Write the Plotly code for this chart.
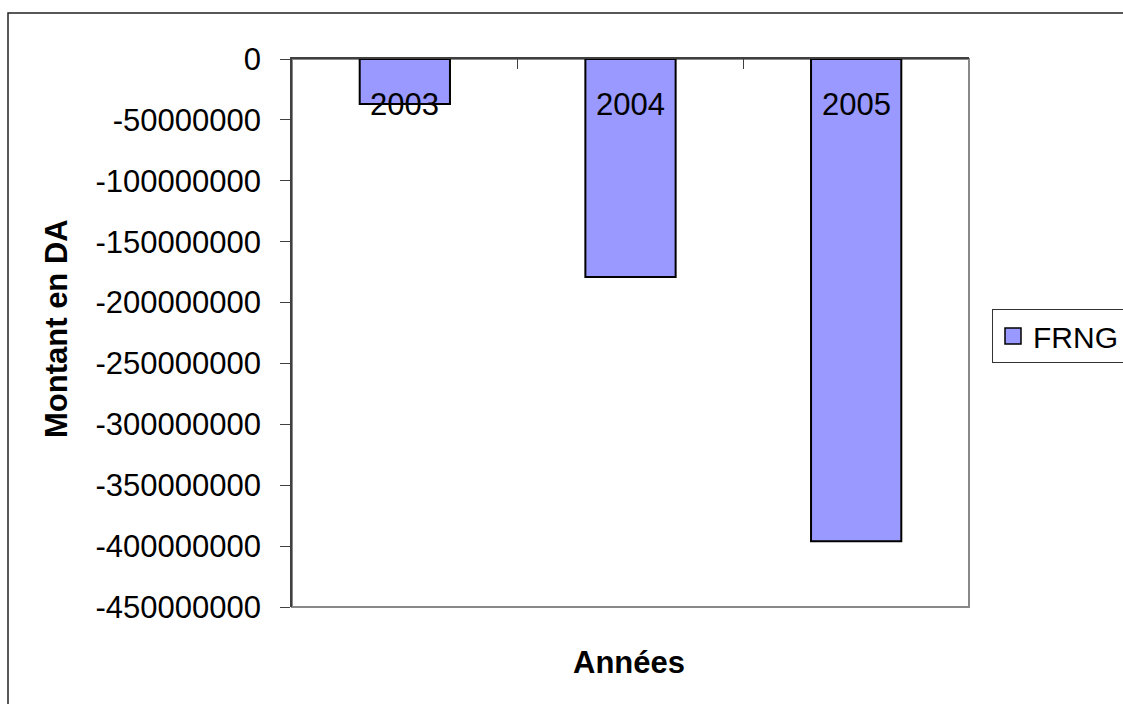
import plotly.graph_objects as go

# FRNG (fonds de roulement net global) per year, in DA
years = ["2003", "2004", "2005"]
frng = [-37000000, -179000000, -396000000]

y_ticks = [0, -50000000, -100000000, -150000000, -200000000,
           -250000000, -300000000, -350000000, -400000000, -450000000]
y_ticktext = [str(v) for v in y_ticks]

W, H = 1123, 704
L, R, T, B = 292, 154, 59, 97
pw, ph = W - L - R, H - T - B


def px_to_paper_x(px):
    return (px - L) / pw


def px_to_paper_y(py):
    return (H - B - py) / ph


font_family = "Liberation Sans, Arial, sans-serif"
bar_color = "#9999FF"

fig = go.Figure()
fig.add_trace(go.Bar(
    x=years,
    y=frng,
    name="FRNG",
    showlegend=False,
    marker=dict(color=bar_color, line=dict(color="#000000", width=2)),
))
# legend key drawn as a filled square with a dark outline (no visible point)
fig.add_trace(go.Scatter(
    x=[years[0]],
    y=[None],
    mode="markers",
    name="FRNG",
    hoverinfo="skip",
    marker=dict(symbol="square", size=17, color=bar_color,
                line=dict(color="#000000", width=1.5)),
))

# category labels sit just under the zero line, centred on each category slot
category_labels = [
    dict(text=yr, showarrow=False, xref="x", yref="paper",
         x=i, y=px_to_paper_y(105), xanchor="center", yanchor="middle",
         font=dict(size=31, color="#000000"))
    for i, yr in enumerate(years)
]

fig.update_layout(
    width=W,
    height=H,
    margin=dict(l=L, r=R, t=T, b=B, autoexpand=False),
    paper_bgcolor="white",
    plot_bgcolor="white",
    font=dict(family=font_family, size=31, color="#000000"),
    bargap=0.6,
    showlegend=True,
    legend=dict(
        x=px_to_paper_x(992),
        y=px_to_paper_y(309),
        xanchor="left",
        yanchor="top",
        bordercolor="#333333",
        borderwidth=1,
        bgcolor="white",
        font=dict(size=30, color="#000000"),
    ),
    xaxis=dict(
        type="category",
        categoryorder="array",
        categoryarray=years,
        range=[-0.5, len(years) - 0.5],
        side="top",
        showline=True,
        linecolor="#404040",
        linewidth=1.5,
        ticks="inside",
        ticklen=10,
        tickcolor="#404040",
        tickson="boundaries",
        showticklabels=False,
        showgrid=False,
        zeroline=False,
    ),
    yaxis=dict(
        range=[-450000000, 0],
        tickvals=y_ticks,
        ticktext=y_ticktext,
        showline=True,
        linecolor="#404040",
        linewidth=1.5,
        ticks="outside",
        ticklen=10,
        tickcolor="#404040",
        ticklabelstandoff=13,
        showgrid=False,
        zeroline=False,
        tickfont=dict(size=31, color="#000000"),
    ),
    shapes=[
        # plot area frame
        dict(type="rect", xref="paper", yref="paper", x0=0, x1=1, y0=0, y1=1,
             line=dict(color="#888888", width=2), layer="below"),
        # chart area frame
        dict(type="rect", xref="paper", yref="paper",
             x0=px_to_paper_x(8), x1=px_to_paper_x(1300),
             y0=px_to_paper_y(900), y1=px_to_paper_y(13),
             line=dict(color="#222222", width=1.5), layer="below"),
    ],
    annotations=category_labels + [
        dict(text="<b>Montant en DA</b>", textangle=-90, showarrow=False,
             xref="paper", yref="paper",
             x=px_to_paper_x(56), y=px_to_paper_y(329),
             xanchor="center", yanchor="middle", font=dict(size=31)),
        dict(text="<b>Années</b>", showarrow=False,
             xref="paper", yref="paper",
             x=px_to_paper_x(629), y=px_to_paper_y(662),
             xanchor="center", yanchor="middle", font=dict(size=31)),
    ],
)

fig.write_html("out.html")
